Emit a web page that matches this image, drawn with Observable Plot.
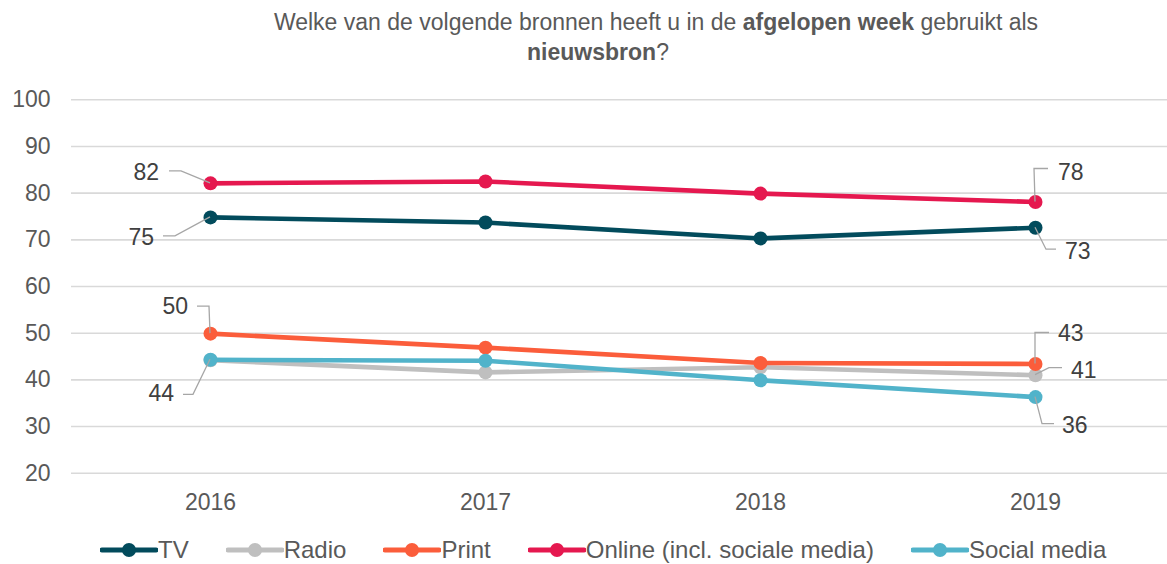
<!DOCTYPE html>
<html>
<head>
<meta charset="utf-8">
<script src="https://cdn.jsdelivr.net/npm/d3@7"></script>
<script src="https://cdn.jsdelivr.net/npm/@observablehq/plot@0.6"></script>
<style>
  html, body { margin: 0; padding: 0; background: #fff; }
  #wrap { position: relative; width: 1167px; height: 564px; font-family: "Liberation Sans", Arial, sans-serif; color: #595959; overflow: hidden; }
  .title { position: absolute; width: 1000px; text-align: center; font-size: 23px; line-height: 30px; white-space: nowrap; }
  #chart { position: absolute; left: 0; top: 0; }
  #legend { position: absolute; left: 100px; top: 536px; display: flex; align-items: center; font-size: 24px; white-space: nowrap; }
  .item { display: flex; align-items: center; margin-right: 37px; }
  .item svg { display: block; margin-right: 0px; }
</style>
</head>
<body>
<div id="wrap">
  <div class="title" style="left:156px; top:7px;">Welke van de volgende bronnen heeft u in de <b>afgelopen week</b> gebruikt als</div>
  <div class="title" style="left:98px; top:37px;"><b>nieuwsbron</b>?</div>
  <div id="chart"></div>
  <div id="legend"></div>
</div>
<script>
// ---- data ----
const years = [2016, 2017, 2018, 2019];
const seriesNames = ["TV", "Radio", "Print", "Online (incl. sociale media)", "Social media"];
const tvValues = [74.8, 73.7, 70.3, 72.6];
const radioValues = [44.2, 41.6, 42.7, 41.0];
const printValues = [49.9, 46.9, 43.6, 43.4];
const onlineValues = [82.1, 82.5, 79.9, 78.1];
const socialValues = [44.3, 44.1, 39.9, 36.3];
const seriesColors = ["#024b5c", "#bfbfbf", "#fb5d3b", "#e5184f", "#51b3ca"];
const yTicks = [20, 30, 40, 50, 60, 70, 80, 90, 100];

const valuesBySeries = [tvValues, radioValues, printValues, onlineValues, socialValues];
const data = [];
seriesNames.forEach((s, i) => years.forEach((y, j) => data.push({series: s, year: y, value: valuesBySeries[i][j]})));
const valueOf = (s, y) => data.find(d => d.series === s && d.year === y).value;

// data-label annotations: leader elbow / end and text offsets in pixels from the point
const annotations = [
  {series: "Online (incl. sociale media)", year: 2016, path: [[-29, -12], [-41, -12]], text: [-51, -11], anchor: "end"},
  {series: "TV", year: 2016, path: [[-35, 19], [-47, 19]], text: [-56, 20], anchor: "end"},
  {series: "Print", year: 2016, path: [[-1, -27], [-13, -27]], text: [-22, -27], anchor: "end"},
  {series: "Social media", year: 2016, path: [[-17, 35], [-27, 35]], text: [-36, 34], anchor: "end"},
  {series: "Online (incl. sociale media)", year: 2019, path: [[-1, -33], [13, -33]], text: [23, -30], anchor: "start"},
  {series: "TV", year: 2019, path: [[11, 22], [21, 22]], text: [30, 24], anchor: "start"},
  {series: "Print", year: 2019, path: [[0, -31], [14, -31]], text: [23, -31], anchor: "start"},
  {series: "Radio", year: 2019, path: [[14, -7], [27, -7]], text: [36, -5], anchor: "start"},
  {series: "Social media", year: 2019, path: [[7, 27], [19, 27]], text: [27, 28], anchor: "start"}
];

function labelMark(index, scales) {
  const g = d3.create("svg:g");
  for (const a of annotations) {
    const x0 = scales.x(a.year), y0 = scales.y(valueOf(a.series, a.year));
    const pts = [[x0, y0], ...a.path.map(([dx, dy]) => [x0 + dx, y0 + dy])];
    g.append("path")
      .attr("d", "M" + pts.map(p => p.join(",")).join("L"))
      .attr("fill", "none").attr("stroke", "#a6a6a6").attr("stroke-width", 1.3);
    g.append("text")
      .attr("x", x0 + a.text[0]).attr("y", y0 + a.text[1])
      .attr("dy", "0.35em").attr("text-anchor", a.anchor)
      .attr("font-size", 23).attr("fill", "#404040")
      .text(String(Math.round(valueOf(a.series, a.year))));
  }
  return g.node();
}

const marks = [
  Plot.ruleY(yTicks, {stroke: "#d9d9d9", strokeWidth: 1.6}),
  Plot.axisY(yTicks, {tickSize: 0, tickPadding: 21, fontSize: 23, label: null}),
  Plot.axisX(years, {tickSize: 0, tickPadding: 20, fontSize: 23, label: null, tickFormat: d => String(d)})
];
seriesNames.forEach((s, i) => {
  const sub = data.filter(d => d.series === s);
  marks.push(Plot.line(sub, {x: "year", y: "value", stroke: seriesColors[i], strokeWidth: 4.6}));
  marks.push(Plot.dot(sub, {x: "year", y: "value", fill: seriesColors[i], r: 7}));
});
marks.push(labelMark);

const chart = Plot.plot({
  width: 1167,
  height: 564,
  marginTop: 99.3,
  marginBottom: 91.3,
  marginLeft: 71,
  marginRight: 0,
  style: {fontFamily: "'Liberation Sans', Arial, sans-serif", color: "#595959", background: "transparent"},
  x: {type: "point", domain: years, range: [209, 1035.5], padding: 0, label: null},
  y: {domain: [20, 100], label: null},
  marks
});
document.getElementById("chart").appendChild(chart);

// legend
const legend = d3.select("#legend");
seriesNames.forEach((s, i) => {
  const item = legend.append("div").attr("class", "item");
  const sv = item.append("svg").attr("width", 58).attr("height", 18);
  sv.append("line").attr("x1", 2).attr("x2", 56).attr("y1", 9).attr("y2", 9)
    .attr("stroke", seriesColors[i]).attr("stroke-width", 5).attr("stroke-linecap", "round");
  sv.append("circle").attr("cx", 29).attr("cy", 9).attr("r", 7).attr("fill", seriesColors[i]);
  item.append("span").text(s);
});
</script>
</body>
</html>
